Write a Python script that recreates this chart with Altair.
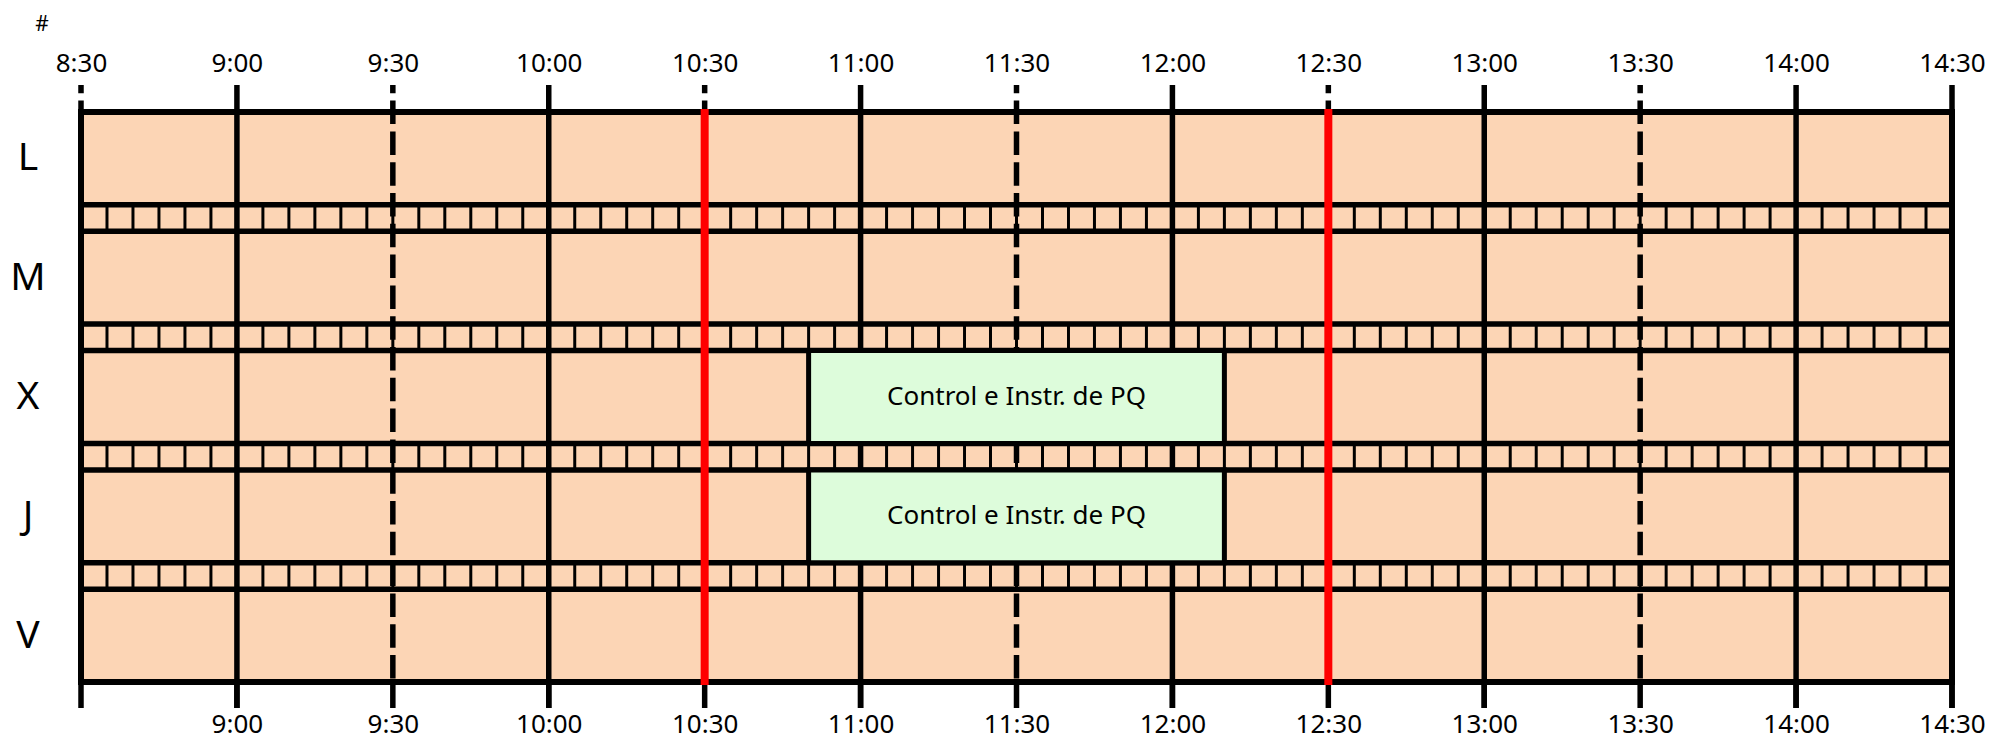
import altair as alt
import pandas as pd

# ---------------- data ----------------
days = ["L", "M", "X", "J", "V"]
tick_times = ["8:30", "9:00", "9:30", "10:00", "10:30", "11:00", "11:30",
              "12:00", "12:30", "13:00", "13:30", "14:00", "14:30"]
tick_styles = ["dash", "solid", "dash", "solid", "dash", "solid", "dash",
               "solid", "dash", "solid", "dash", "solid", "solid"]
bottom_label_times = ["9:00", "9:30", "10:00", "10:30", "11:00", "11:30",
                      "12:00", "12:30", "13:00", "13:30", "14:00", "14:30"]
red_times = ["10:30", "12:30"]
ev_days = ["X", "J"]
ev_start = ["10:50", "10:50"]
ev_end = ["12:10", "12:10"]
ev_label = ["Control e Instr. de PQ", "Control e Instr. de PQ"]
slot_minutes = 5

PEACH = "#FCD5B5"
GREEN = "#DDFCDB"
FONT = "Noto Sans"

ROW = 3.5   # height of a day row (y units)
GAP = 1.0   # height of the separator band (y units)


def mins(s):
    h, m = s.split(":")
    return int(h) * 60 + int(m) - (8 * 60 + 30)


t0 = mins(tick_times[0])
t1 = mins(tick_times[-1])
ymax = len(days) * ROW + (len(days) - 1) * GAP

xs = alt.Scale(domain=[t0, t1], nice=False, zero=False)
ys = alt.Scale(domain=[0, ymax], nice=False, zero=False, reverse=True)


def X(f, axis=None):
    return alt.X(f, type="quantitative", scale=xs, axis=axis)


def Y(f):
    return alt.Y(f, type="quantitative", scale=ys, axis=None)


label_arr = "[" + ",".join("'%s'" % t for t in tick_times) + "]"
label_expr = label_arr + "[round(datum.value/30)]"

# background
bg_df = pd.DataFrame({"x0": [t0], "x1": [t1], "y0": [0.0], "y1": [ymax]})
bg = alt.Chart(bg_df).mark_rect(fill=PEACH, stroke=None).encode(
    x=X("x0", alt.Axis(orient="top", values=[mins(t) for t in tick_times],
                       labelExpr=label_expr, ticks=False, domain=False,
                       grid=False, labelFont=FONT, labelFontSize=26,
                       labelColor="black", labelBaseline="alphabetic",
                       labelPadding=41, labelFlush=False, labelOverlap=False,
                       title=None)),
    x2="x1", y=Y("y0"), y2="y1")

# separator bands
band_rows = []
for i in range(len(days) - 1):
    top = i * (ROW + GAP) + ROW
    band_rows.append({"top": top, "bot": top + GAP})

div_rows = []
for b in band_rows:
    for m in range(t0 + slot_minutes, t1, slot_minutes):
        div_rows.append({"m": m, "top": b["top"], "bot": b["bot"]})
div_df = pd.DataFrame(div_rows)
dividers = alt.Chart(div_df).mark_rule(color="black", strokeWidth=3).encode(
    x=X("m"), y=Y("top"), y2="bot")

hl_rows = []
for b in band_rows:
    hl_rows.append({"x0": t0, "x1": t1, "y": b["top"]})
    hl_rows.append({"x0": t0, "x1": t1, "y": b["bot"]})
hl_df = pd.DataFrame(hl_rows)
band_lines = alt.Chart(hl_df).mark_rule(color="black", strokeWidth=5.5).encode(
    x=X("x0"), x2="x1", y=Y("y"))

# vertical time lines
vt = pd.DataFrame({"m": [mins(t) for t in tick_times], "style": tick_styles})
solid_lines = alt.Chart(vt[vt["style"] == "solid"]).mark_rule(
    color="black", strokeWidth=5.5).encode(
    x=X("m"), y=alt.value(-27), y2=alt.value(596))
dash_lines = alt.Chart(vt[vt["style"] == "dash"]).mark_rule(
    color="black", strokeWidth=5.5, strokeDash=[23.5, 7.3],
    strokeDashOffset=15.2).encode(
    x=X("m"), y=alt.value(-27), y2=alt.value(570))
bot_df = pd.DataFrame({"m": [mins(t) for t in tick_times]})
bottom_ticks = alt.Chart(bot_df).mark_rule(color="black", strokeWidth=5.5).encode(
    x=X("m", alt.Axis(orient="bottom", values=[mins(t) for t in bottom_label_times],
                      labelExpr=label_expr, ticks=False, domain=False,
                      grid=False, labelFont=FONT, labelFontSize=26,
                      labelColor="black", labelBaseline="alphabetic",
                      labelPadding=50, labelFlush=False, labelOverlap=False,
                      title=None)),
    y=alt.value(570), y2=alt.value(596))

# events
ev_rows = []
for d, s, e, lab in zip(ev_days, ev_start, ev_end, ev_label):
    idx = days.index(d)
    y0 = idx * (ROW + GAP)
    ev_rows.append({"s": mins(s), "e": mins(e), "y0": y0, "y1": y0 + ROW,
                    "yc": y0 + ROW / 2, "mid": (mins(s) + mins(e)) / 2,
                    "label": lab})
ev_df = pd.DataFrame(ev_rows)
ev_boxes = alt.Chart(ev_df).mark_rect(fill=GREEN, stroke="black",
                                      strokeWidth=5).encode(
    x=X("s"), x2="e", y=Y("y0"), y2="y1")
ev_text = alt.Chart(ev_df).mark_text(font=FONT, fontSize=26, color="black",
                                     align="center", baseline="middle").encode(
    x=X("mid"), y=Y("yc"), text="label:N")

# frame
frame = alt.Chart(bg_df).mark_rect(fillOpacity=0, stroke="black",
                                   strokeWidth=6).encode(
    x=X("x0"), x2="x1", y=Y("y0"), y2="y1")

# red lines
red_df = pd.DataFrame({"m": [mins(t) for t in red_times]})
red_lines = alt.Chart(red_df).mark_rule(color="#FF0000", strokeWidth=8).encode(
    x=X("m"), y=alt.value(-3), y2=alt.value(573))

# day labels
day_df = pd.DataFrame({"day": days,
                       "yc": [i * (ROW + GAP) + ROW / 2 for i in range(len(days))]})
day_text = alt.Chart(day_df).mark_text(font=FONT, fontSize=39, color="black",
                                       align="center", baseline="middle").encode(
    x=alt.value(-53), y=Y("yc"), text="day:N")

hash_df = pd.DataFrame({"t": ["#"]})
hash_text = alt.Chart(hash_df).mark_text(font=FONT, fontSize=21, color="black",
                                         align="center", baseline="alphabetic").encode(
    x=alt.value(-39), y=alt.value(-81), text="t:N")

chart = alt.layer(
    bg, dividers, band_lines, solid_lines, dash_lines, bottom_ticks,
    ev_boxes, ev_text, frame, red_lines, day_text, hash_text
).properties(
    width=1871, height=570,
    autosize=alt.AutoSizeParams(type="none"),
    padding={"left": 73, "top": 104, "right": 40, "bottom": 62},
    background="white",
).configure_view(stroke=None)

chart.save("out.html", embed_options={"renderer": "svg", "actions": False})
